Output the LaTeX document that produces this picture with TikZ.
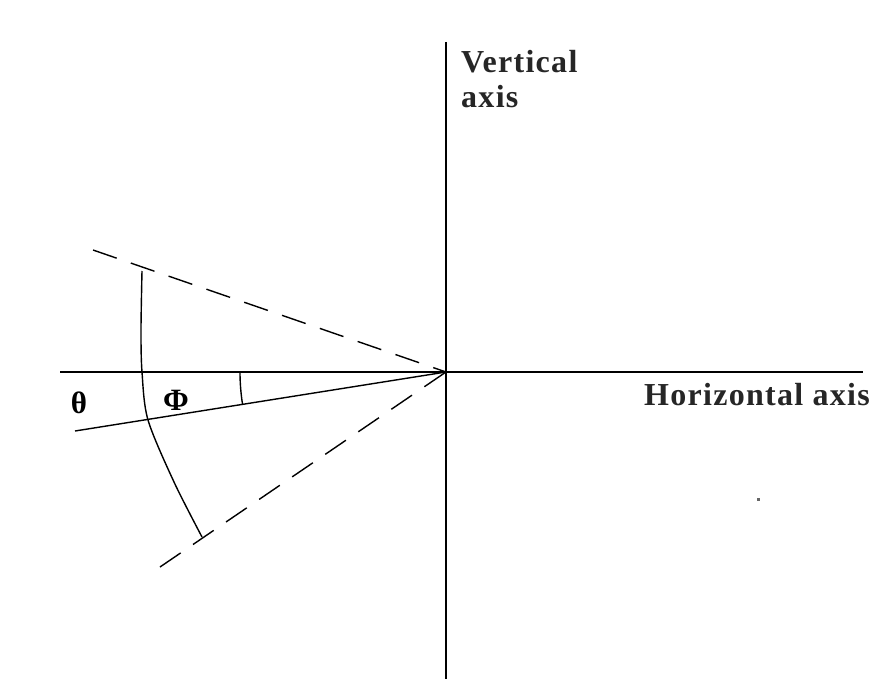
\documentclass[tikz,border=0pt]{standalone}
\usepackage{fontspec}
\setmainfont{Liberation Serif}
\newfontfamily\lblfont[LetterSpace=4]{Liberation Serif}
\begin{document}
\begin{tikzpicture}[x=1pt,y=-1pt,
  axisline/.style={line width=1.5pt},
  dashline/.style={line width=1.4pt, dash pattern=on 25pt off 15pt},
  thin/.style={line width=1.4pt},
  lbl/.style={inner sep=0pt, font=\lblfont\bfseries\fontsize{32}{35}\selectfont, text=black!85},
  greek/.style={inner sep=0pt, font=\bfseries\fontsize{31}{34}\selectfont}]
\useasboundingbox[fill=white] (0,0) rectangle (875,679);
% origin and axis ends
\coordinate (O) at (446,372);
\coordinate (vtop) at (446,42);
\coordinate (vbot) at (446,679);
\coordinate (hleft) at (60,372);
\coordinate (hright) at (863,372);
\draw[axisline] (vtop) -- (vbot);
\draw[axisline] (hleft) -- (hright);
% dashed bounding lines
\coordinate (du) at (93,250);
\coordinate (dl) at (160,567);
\draw[dashline] (du) -- (O);
\draw[dashline] (dl) -- (O);
% middle line
\coordinate (m) at (75,431);
\draw[thin] (m) -- (O);
% outer arc
\coordinate (a1) at (142,271);
\coordinate (a2) at (142,372);
\coordinate (a3) at (148,420);
\coordinate (a4) at (202,537);
\draw[thin] plot[smooth, tension=0.5] coordinates {(a1) (141,330) (a2) (a3) (174,482) (a4)};
% small angle arc
\coordinate (s1) at (240,372);
\draw[thin] (s1) arc[start angle=180, end angle=189, radius=206pt];
% labels
\node[lbl, anchor=base west] (vlab1) at (461,73) {Vertical};
\node[lbl, anchor=base west] (vlab2) at (461,108) {axis};
\node[lbl, anchor=base west] (hlab) at (644,405) {Horizontal axis};
\node[greek] (theta) at (79,403) {θ};
\node[greek] (phi) at (176,400) {Φ};
% stray dot
\fill[black!60] (756.5,497.5) rectangle (759.5,500.5);
\end{tikzpicture}
\end{document}
